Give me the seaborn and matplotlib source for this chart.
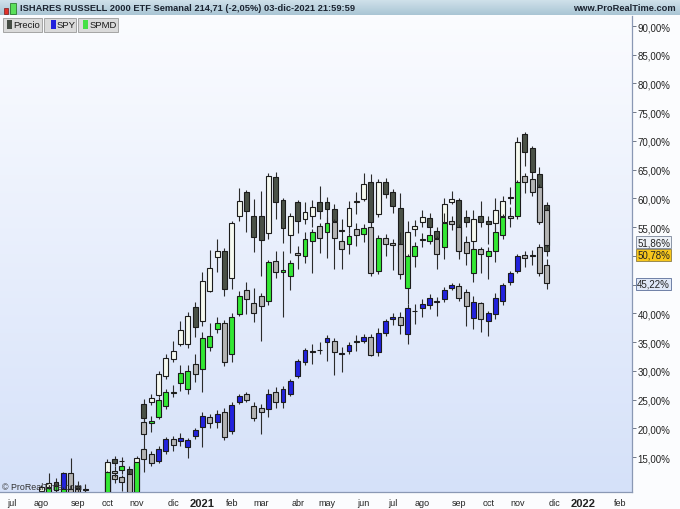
import numpy as np
import pandas as pd
import matplotlib
matplotlib.use("Agg")
import matplotlib.pyplot as plt
import matplotlib.dates as mdates
import matplotlib.transforms as mtransforms
from matplotlib.colors import LinearSegmentedColormap
from matplotlib.patches import Rectangle
import seaborn as sns

sns.set_theme(style="white")
plt.rcParams["font.family"] = ["Liberation Sans", "DejaVu Sans"]

# one candle per week (Monday of the week), values in %
weeks = pd.date_range("2020-08-03", periods=70, freq="7D")

precio_o = [9.1, 9.8, 10.7, 10.0, 11.0, 10.0, 9.5, 8.5, 7.8, 8.7,
            14.7, 14.25, 12.9, 12.0, 24.2, 24.5, 25.8, 29.1, 32.1, 34.7,
            34.7, 41.1, 38.7, 43.9, 49.8, 50.8, 46.2, 56.9, 61.1, 56.9,
            56.9, 54.0, 63.7, 59.7, 53.6, 59.3, 56.4, 57.0, 59.4, 59.4,
            58.2, 54.4, 55.2, 59.4, 59.9, 62.9, 57.3, 62.9, 61.1, 58.3,
            50.0, 54.7, 55.9, 56.6, 54.3, 55.9, 59.4, 59.7, 56.8, 52.6,
            56.9, 56.1, 55.7, 56.9, 60.0, 60.2, 71.2, 68.8, 64.3, 58.9]
precio_h = [10.1, 12.2, 11.3, 11.6, 11.5, 10.8, 10.3, 8.8, 8.8, 14.6,
            15.2, 15.0, 13.5, 15.2, 25.1, 26.0, 30.0, 32.9, 35.2, 38.7,
            40.2, 42.0, 47.2, 51.0, 52.9, 51.3, 56.1, 61.8, 61.4, 59.9,
            61.3, 64.4, 64.6, 60.0, 57.5, 59.8, 59.3, 59.7, 62.2, 60.3,
            59.0, 56.5, 59.5, 61.1, 64.5, 64.3, 63.4, 63.5, 61.6, 61.0,
            56.0, 56.2, 57.9, 57.5, 55.0, 60.0, 61.3, 60.0, 58.0, 58.0,
            59.5, 57.0, 60.0, 60.5, 62.0, 70.7, 71.6, 69.2, 65.5, 59.4]
precio_l = [8.8, 9.3, 9.6, 9.6, 9.8, 8.5, 8.0, 7.0, 7.0, 8.3,
            13.4, 13.4, 9.6, 11.6, 21.1, 24.0, 25.4, 28.5, 31.5, 34.3,
            34.0, 35.9, 37.8, 43.7, 47.2, 43.0, 44.2, 56.0, 54.2, 50.7,
            46.5, 52.9, 56.4, 52.2, 50.5, 53.9, 55.6, 55.0, 56.5, 55.8,
            55.5, 52.0, 54.0, 57.3, 59.5, 55.3, 56.7, 60.0, 57.5, 49.5,
            48.3, 53.5, 55.0, 54.0, 52.3, 55.0, 59.0, 49.5, 55.0, 51.0,
            55.0, 52.0, 54.5, 56.5, 59.0, 60.0, 65.6, 63.5, 55.5, 50.0]
precio_c = [9.8, 10.4, 10.0, 11.2, 10.2, 9.6, 9.2, 8.0, 8.5, 14.1,
            14.0, 14.35, 12.0, 14.8, 21.8, 25.2, 29.4, 32.2, 33.5, 37.1,
            39.5, 37.6, 45.6, 47.9, 50.8, 44.2, 55.7, 59.5, 57.8, 53.3,
            52.8, 63.9, 59.4, 54.9, 56.9, 56.1, 57.6, 58.5, 57.8, 58.2,
            56.1, 54.3, 58.3, 59.6, 62.5, 55.9, 62.9, 60.8, 58.7, 50.7,
            54.2, 55.2, 56.8, 55.0, 53.1, 59.0, 59.9, 51.0, 55.9, 56.4,
            55.9, 55.6, 58.0, 59.5, 60.2, 69.8, 68.1, 64.6, 56.0, 50.78]

spy_o = [8.0, 8.5, 9.2, 9.3, 12.2, 9.5, 8.8, 8.2, 7.8, 8.5,
         11.9, 11.5, 10.7, 9.3, 16.4, 15.6, 14.3, 16.0, 18.1, 17.8,
         16.8, 18.6, 20.2, 21.9, 21.1, 22.8, 19.5, 24.6, 26.0, 23.9,
         23.5, 23.4, 26.3, 24.6, 26.0, 29.1, 31.5, 33.3, 33.55, 35.0,
         35.2, 32.9, 33.4, 35.1, 35.2, 35.9, 33.3, 36.6, 39.0, 39.4,
         36.4, 40.35, 41.0, 41.4, 42.2, 42.5, 44.4, 44.8, 43.7, 39.2,
         41.8, 38.7, 39.9, 42.1, 45.5, 47.4, 50.2, 49.95, 51.5, 48.4]
spy_h = [8.6, 9.6, 10.0, 12.4, 14.8, 10.2, 9.6, 8.6, 8.8, 11.8,
         12.3, 11.9, 10.9, 14.0, 16.8, 16.0, 17.0, 18.5, 18.6, 19.2,
         18.3, 20.0, 22.8, 22.5, 23.2, 23.5, 24.6, 26.0, 26.3, 24.5,
         24.3, 26.8, 27.2, 27.4, 28.6, 32.0, 34.0, 34.7, 35.0, 36.2,
         35.8, 34.1, 35.0, 36.2, 36.4, 36.4, 37.5, 39.0, 40.0, 40.2,
         41.6, 41.6, 42.5, 43.3, 42.8, 44.6, 45.3, 45.3, 44.2, 43.0,
         42.0, 40.4, 43.5, 45.3, 47.4, 50.4, 50.8, 51.0, 52.1, 49.5]
spy_l = [7.6, 8.0, 8.6, 9.0, 9.2, 8.0, 7.5, 7.0, 7.2, 8.2,
         10.5, 9.1, 8.5, 9.0, 12.4, 13.5, 14.0, 15.6, 16.0, 16.9,
         14.8, 18.2, 16.8, 20.0, 20.0, 17.9, 19.0, 24.3, 24.6, 21.2,
         19.0, 22.0, 23.5, 23.6, 25.6, 28.8, 31.0, 31.2, 33.0, 31.7,
         29.3, 29.8, 33.0, 33.4, 34.9, 32.5, 32.5, 36.0, 38.0, 36.4,
         34.7, 38.2, 39.4, 40.8, 39.5, 42.0, 44.0, 42.2, 37.8, 37.3,
         36.8, 36.1, 39.0, 41.5, 45.0, 47.0, 48.1, 48.5, 46.5, 44.2]
spy_c = [8.5, 9.2, 9.4, 12.2, 9.5, 8.8, 8.2, 7.8, 8.5, 11.6,
         11.2, 10.7, 9.3, 13.8, 14.7, 13.9, 16.4, 18.1, 17.1, 18.3,
         18.0, 19.7, 22.1, 21.0, 22.5, 18.5, 24.0, 25.6, 24.9, 21.8,
         22.8, 26.0, 24.6, 26.8, 28.2, 31.7, 33.6, 33.5, 33.65, 35.7,
         33.3, 33.1, 34.5, 35.2, 35.9, 32.8, 36.6, 38.7, 39.3, 38.0,
         41.0, 40.45, 41.6, 42.7, 42.0, 44.1, 45.0, 42.7, 41.3, 42.0,
         39.0, 40.1, 42.7, 44.9, 47.0, 50.0, 49.6, 50.05, 47.0, 45.22]

spmd_o = [8.0, 8.6, 9.2, 9.0, 9.5, 8.8, 8.2, 7.6, 7.0, 7.5,
          12.6, 12.7, 12.0, 9.0, 21.1, 21.0, 22.0, 23.9, 26.2, 27.8,
          26.9, 31.2, 30.3, 34.1, 37.3, 38.3, 33.0, 39.9, 44.0, 41.8,
          43.0, 42.2, 49.1, 47.2, 46.5, 50.5, 50.0, 52.6, 55.2, 54.2,
          55.9, 52.6, 52.1, 54.6, 53.8, 55.0, 47.4, 53.1, 52.2, 52.1,
          44.4, 50.0, 52.8, 52.6, 52.9, 51.5, 56.1, 55.0, 52.4, 47.0,
          51.2, 50.0, 50.9, 53.6, 57.0, 56.9, 63.9, 63.4, 62.0, 58.0]
spmd_h = [8.8, 10.2, 10.3, 9.8, 10.2, 9.6, 9.2, 8.0, 8.0, 12.6,
          13.5, 13.9, 12.8, 14.1, 21.6, 22.1, 25.5, 26.9, 27.5, 31.0,
          31.0, 33.0, 36.8, 38.3, 39.3, 38.8, 40.0, 43.9, 45.5, 44.4,
          43.5, 49.2, 50.8, 50.8, 49.3, 51.8, 54.1, 54.6, 55.7, 56.7,
          56.5, 53.0, 54.0, 55.8, 55.5, 55.8, 53.6, 53.8, 53.0, 54.2,
          50.3, 52.5, 54.0, 54.5, 53.5, 57.5, 57.0, 55.5, 53.5, 51.5,
          51.5, 51.5, 55.0, 57.3, 58.5, 63.2, 64.5, 64.0, 62.5, 58.5]
spmd_l = [7.6, 8.2, 8.5, 8.0, 8.0, 7.5, 7.0, 6.5, 6.0, 7.2,
          11.6, 12.0, 8.6, 8.7, 16.4, 19.4, 21.6, 23.4, 25.5, 26.5,
          26.0, 28.0, 26.3, 33.5, 36.6, 30.8, 31.5, 39.5, 39.9, 38.5,
          35.2, 41.5, 46.2, 39.4, 44.0, 47.7, 48.8, 47.0, 50.5, 49.7,
          47.7, 47.7, 50.3, 51.7, 52.5, 46.5, 46.8, 50.0, 47.5, 46.0,
          41.7, 48.0, 51.5, 52.0, 47.7, 49.5, 54.5, 50.2, 48.5, 45.5,
          47.0, 46.0, 49.0, 53.0, 55.0, 56.5, 61.0, 60.5, 55.5, 51.5]
spmd_c = [8.6, 9.6, 9.9, 9.5, 8.8, 8.2, 7.6, 7.0, 7.5, 12.4,
          12.2, 13.4, 9.0, 14.1, 19.0, 21.2, 24.9, 26.3, 26.4, 29.6,
          30.0, 29.4, 35.7, 36.1, 38.3, 31.6, 39.4, 43.0, 42.5, 40.1,
          41.3, 48.9, 47.2, 47.6, 48.8, 50.1, 52.9, 54.2, 53.1, 55.7,
          53.1, 51.2, 53.5, 53.6, 54.9, 47.0, 53.1, 52.1, 51.9, 46.8,
          50.0, 51.7, 53.0, 53.6, 50.3, 55.7, 55.6, 50.9, 50.5, 51.2,
          50.3, 50.9, 54.2, 56.8, 56.6, 62.9, 62.9, 61.1, 55.9, 51.86]

month_names = ["", "feb", "mar", "abr", "may", "jun", "jul",
               "ago", "sep", "oct", "nov", "dic"]
y_ticks = [15, 20, 25, 30, 35, 40, 45, 50, 55, 60, 65, 70, 75, 80, 85, 90]
header_title = "ISHARES RUSSELL 2000 ETF Semanal 214,71 (-2,05%) 03-dic-2021 21:59:59"

W, H = 680, 510


def fx(px):
    return px / W


def fy(py):
    return 1 - py / H


def candles(ax, x, o, h, l, c, up, down, z):
    o, h, l, c = map(np.asarray, (o, h, l, c))
    ax.vlines(x, l, h, color="#2b2b2b", lw=0.8, zorder=z)
    bottom = np.minimum(o, c)
    height = np.maximum(np.abs(c - o), 0.12)
    colors = np.where(c >= o, up, down)
    ax.bar(x, height, bottom=bottom, width=4.7, color=colors,
           edgecolor="#1c1c1c", linewidth=0.8, zorder=z + 0.5)


fig = plt.figure(figsize=(6.8, 5.1), dpi=100)
fig.patch.set_facecolor("#fbfcfe")

# plot background gradient
pos = [0, fy(493), fx(632), (493 - 17) / H]
bg = fig.add_axes(pos, zorder=0)
bg_cmap = LinearSegmentedColormap.from_list("bg", ["#fbfcff", "#d5e1f9"])
bg.imshow(np.linspace(0, 1, 256).reshape(-1, 1), cmap=bg_cmap, aspect="auto",
          extent=[0, 1, 0, 1])
bg.set_axis_off()

ax = fig.add_axes(pos, zorder=1)
ax.set_facecolor("none")

x = mdates.date2num(weeks)
candles(ax, x, precio_o, precio_h, precio_l, precio_c, "#f6faf0", "#4a5147", 2)
candles(ax, x, spy_o, spy_h, spy_l, spy_c, "#2222dd", "#b4b4b4", 4)
candles(ax, x, spmd_o, spmd_h, spmd_l, spmd_c, "#33e833", "#b4b4b4", 6)

x_left = mdates.date2num(pd.Timestamp("2020-07-06")) - 11.5
x_right = mdates.date2num(pd.Timestamp("2020-08-03")) + 564.5
ax.set_xlim(x_left, x_right)
ax.set_ylim(8.92, 91.74)

# month ticks at the first weekly candle of each month
mondays = pd.date_range("2020-07-06", "2022-02-28", freq="W-MON")
firsts = mondays[~mondays.to_period("M").duplicated()]
ax.set_xticks(mdates.date2num(firsts))
ax.set_xticklabels([str(d.year) if d.month == 1 else month_names[d.month - 1]
                    for d in firsts])
for lab, d in zip(ax.get_xticklabels(), firsts):
    if d.month == 1:
        lab.set_fontweight("bold")
        lab.set_fontsize(8)
    else:
        lab.set_fontsize(6.5)
ax.tick_params(axis="x", length=3, width=0.7, color="#8090a8", pad=1.5,
               labelcolor="#222222")

ax.yaxis.tick_right()
ax.set_yticks(y_ticks)
ax.set_yticklabels(["" if v in (45, 50) else f"{v},00%" for v in y_ticks])
ax.tick_params(axis="y", length=3, width=0.7, color="#707888", pad=1,
               labelsize=7, labelcolor="#222222")
for side in ["top", "left"]:
    ax.spines[side].set_visible(False)
for side in ["right", "bottom"]:
    ax.spines[side].set_color("#8a98b4")
    ax.spines[side].set_linewidth(0.9)

# last value boxes on the price axis
blend = mtransforms.blended_transform_factory(ax.transAxes, ax.transData)
ax.text(1.008, spmd_c[-1] + 0.55, "51,86%", transform=blend, fontsize=7,
        va="center", ha="left", color="#222222", zorder=10, clip_on=False,
        bbox=dict(boxstyle="square,pad=0.12", fc="#eef2f8", ec="#8a94a6", lw=0.7))
ax.text(1.008, precio_c[-1] - 0.6, "50,78%", transform=blend, fontsize=7,
        va="center", ha="left", color="#222222", zorder=11, clip_on=False,
        bbox=dict(boxstyle="square,pad=0.12", fc="#f7c61c", ec="#9a8a50", lw=0.7))
ax.text(1.008, spy_c[-1] - 0.1, "45,22%", transform=blend, fontsize=7,
        va="center", ha="left", color="#222222", zorder=10, clip_on=False,
        bbox=dict(boxstyle="square,pad=0.12", fc="#e0e8f7", ec="#6f80a6", lw=0.7))

# header bar
hdr = fig.add_axes([0, fy(16), 1, 16 / H], zorder=2)
hdr_cmap = LinearSegmentedColormap.from_list("hdr", ["#d2e3ec", "#a9c5d4"])
hdr.imshow(np.linspace(0, 1, 64).reshape(-1, 1), cmap=hdr_cmap, aspect="auto",
           extent=[0, 1, 0, 1])
hdr.set_axis_off()
fig.text(fx(20), fy(8.5), header_title, fontsize=6.7, fontweight="bold",
         color="#1b2330", va="center", ha="left", zorder=5)
fig.text(fx(676), fy(8.5), "www.ProRealTime.com", fontsize=6.7,
         fontweight="bold", color="#1b2330", va="center", ha="right", zorder=5)
# small candle icon
fig.patches.append(Rectangle((fx(4), fy(15)), 4 / W, 6 / H, fc="#e0302a",
                             ec="#7a1a1a", lw=0.5, transform=fig.transFigure,
                             zorder=6))
fig.patches.append(Rectangle((fx(10), fy(15)), 6 / W, 11 / H, fc="#5ae05a",
                             ec="#1a6a1a", lw=0.5, transform=fig.transFigure,
                             zorder=6))

# legend buttons
buttons = [("Precio", 3, 42, "#454c44", 7, 13),
           ("SPY", 44, 76, "#2222dd", 51, 57),
           ("SPMD", 78, 118, "#44e044", 83, 90)]
for name, x0, x1, col, sq, tx in buttons:
    fig.patches.append(Rectangle((fx(x0), fy(33)), (x1 - x0) / W, 14 / H,
                                 fc="#dadada", ec="#a4a4a4", lw=0.7,
                                 transform=fig.transFigure, zorder=6))
    fig.patches.append(Rectangle((fx(sq), fy(30)), 5 / W, 9 / H, fc=col,
                                 ec="none", transform=fig.transFigure, zorder=7))
    fig.text(fx(tx), fy(26), name, fontsize=6.8, color="#1a1a1a",
             va="center", ha="left", zorder=8)

fig.text(fx(2), fy(488), "\u00a9 ProRealTime.com", fontsize=6.4,
         color="#303030", va="center", ha="left", zorder=9)

fig.savefig("out.png", dpi=100, facecolor=fig.get_facecolor())
